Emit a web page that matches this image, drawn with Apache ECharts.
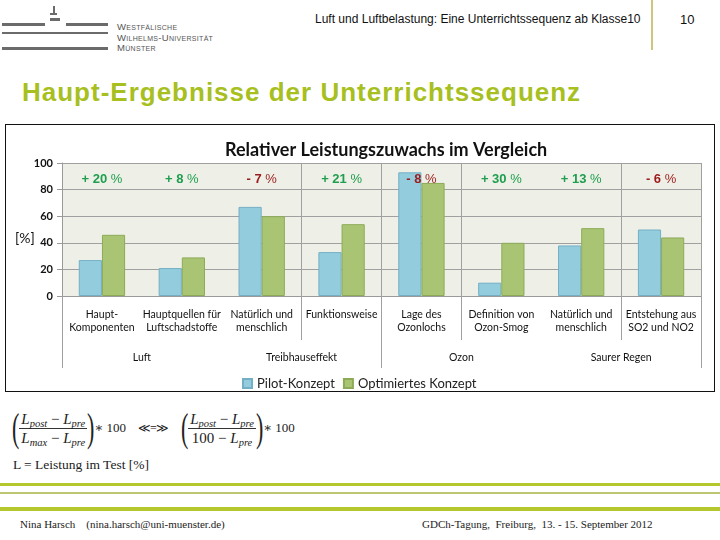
<!DOCTYPE html>
<html><head><meta charset="utf-8">
<script src="https://cdn.jsdelivr.net/npm/echarts@6/dist/echarts.min.js"></script>
<style>
html,body{margin:0;padding:0;background:#fff;width:720px;height:540px;overflow:hidden;position:relative;font-family:'Liberation Sans',Arial,sans-serif}
.abs{position:absolute}
.bar{position:absolute;background:#6b6b6b}
.logo{position:absolute;left:117px;font-size:9.5px;font-variant:small-caps;color:#555;letter-spacing:0.3px;line-height:10px;font-family:'Liberation Sans',Arial,sans-serif}
.gl{position:absolute;left:0;width:720px}
.serif{font-family:'Liberation Serif','Times New Roman',serif;color:#222}
.formula{position:absolute;display:flex;align-items:center;height:40px;font-family:'Liberation Serif','DejaVu Serif',serif;font-size:15px;color:#222}
.par{font-size:40px;line-height:40px;display:inline-block;transform:scaleX(0.55);font-weight:normal;margin:0 -3px}
.frac{display:inline-flex;flex-direction:column;align-items:center;line-height:16px}
.num{border-bottom:1px solid #333;padding:0 2px 1px}
.den{padding:1px 2px 0}
.frac sub{font-size:10.5px;font-style:italic;vertical-align:-3px;line-height:0}
.op{margin-left:0px;font-size:13px}
</style></head><body>

<!-- header / logo -->
<div class="bar" style="left:2px;top:23px;width:43px;height:3px"></div>
<div class="bar" style="left:66px;top:23px;width:42px;height:3px"></div>
<div class="bar" style="left:2px;top:32px;width:106px;height:1.5px"></div>
<div class="bar" style="left:2px;top:47px;width:106px;height:3px"></div>
<div class="bar" style="left:53px;top:6px;width:1.5px;height:7px"></div>
<div class="bar" style="left:50px;top:13px;width:7px;height:1.5px"></div>
<div class="bar" style="left:50px;top:18px;width:10px;height:2.5px"></div>
<div class="logo" style="top:22px">Westfälische</div>
<div class="logo" style="top:32.5px">Wilhelms-Universität</div>
<div class="logo" style="top:43px">Münster</div>

<div class="abs" style="left:315px;top:12px;font-size:12px;color:#111">Luft und Luftbelastung: Eine Unterrichtssequenz ab Klasse10</div>
<div class="abs" style="left:651px;top:0;width:1.5px;height:50px;background:#cfc67e"></div>
<div class="abs" style="left:680px;top:12px;font-size:13px;color:#111">10</div>

<div class="abs" style="left:22px;top:77px;font-size:26px;font-weight:bold;color:#a7bf1f;letter-spacing:1px">Haupt-Ergebnisse der Unterrichtssequenz</div>

<!-- chart box -->
<div class="abs" style="left:5px;top:124px;width:710px;height:268px;border:1.5px solid #111;box-sizing:border-box;background:#fff">
  <div id="chart" style="width:707px;height:265px"></div>
</div>

<!-- formula -->
<div class="formula" style="left:12px;top:408px">
  <span class="par">(</span>
  <span class="frac"><span class="num"><i>L</i><sub>post</sub> − <i>L</i><sub>pre</sub></span><span class="den"><i>L</i><sub>max</sub> − <i>L</i><sub>pre</sub></span></span>
  <span class="par">)</span>
  <span class="op">∗ 100</span>
  <span style="margin-left:12px;font-size:12px;letter-spacing:-1px">≪=≫</span>
  <span class="par" style="margin-left:10px">(</span>
  <span class="frac"><span class="num"><i>L</i><sub>post</sub> − <i>L</i><sub>pre</sub></span><span class="den">100 − <i>L</i><sub>pre</sub></span></span>
  <span class="par">)</span>
  <span class="op">∗ 100</span>
</div>
<div class="abs serif" style="left:13px;top:457px;font-size:13.5px">L = Leistung im Test [%]</div>

<!-- green lines -->
<div class="gl" style="top:483px;height:3px;background:#b4c72c"></div>
<div class="gl" style="top:492px;height:2px;background:#bcc670"></div>
<div class="gl" style="top:507px;height:3.5px;background:#b4c72c"></div>

<div class="abs serif" style="left:20px;top:518px;font-size:11px">Nina Harsch&nbsp;&nbsp;&nbsp;&nbsp;(nina.harsch@uni-muenster.de)</div>
<div class="abs serif" style="left:422px;top:518px;font-size:11px">GDCh-Tagung,&nbsp; Freiburg,&nbsp; 13. - 15. September 2012</div>

<script>
// ---- data ----
const categories = ['Haupt-\nKomponenten', 'Hauptquellen für\nLuftschadstoffe', 'Natürlich und\nmenschlich', 'Funktionsweise',
  'Lage des\nOzonlochs', 'Definition von\nOzon-Smog', 'Natürlich und\nmenschlich', 'Entstehung aus\nSO2 und NO2'];
const groups = ['Luft', 'Treibhauseffekt', 'Ozon', 'Saurer Regen'];
const pilot = [27, 21, 67, 33, 93, 10, 38, 50];
const optimiert = [46, 29, 60, 54, 85, 40, 51, 44];
const gains = [20, 8, -7, 21, -8, 30, 13, -6];
const seriesNames = ['Pilot-Konzept', 'Optimiertes Konzept'];
const chartTitle = 'Relativer Leistungszuwachs im Vergleich';
const yName = '[%]';

const FONT = 'Lato, "Open Sans", sans-serif';
const chart = echarts.init(document.getElementById('chart'), null, {renderer: 'canvas'});

const splitIdx = [3, 4, 5, 7];
const shortTickIdx = [3, 5, 7];
const longTickIdx = [0, 2];
const sepColor = '#a0a0a0';

chart.setOption({
  animation: false,
  textStyle: {fontFamily: FONT},
  title: {
    text: chartTitle, left: 214, top: 11,
    textStyle: {fontFamily: FONT, fontSize: 18, fontWeight: 'bold', color: '#111'}
  },
  legend: {
    data: seriesNames, left: 231, top: 247, icon: 'rect', itemWidth: 9, itemHeight: 9, itemGap: 8,
    textStyle: {fontFamily: FONT, fontSize: 13, color: '#222'}
  },
  graphic: [{
    type: 'text', left: 9, top: 106,
    style: {text: yName, fontFamily: FONT, fontSize: 14, fill: '#111'}
  }],
  grid: {left: 56, right: 12, top: 38, height: 133, show: true, backgroundColor: '#eef0e7', borderWidth: 0, outerBoundsMode: 'none'},
  xAxis: [
    {
      type: 'category', data: categories, position: 'bottom',
      axisLine: {show: true, lineStyle: {color: '#9a9a9a', width: 1}},
      axisTick: {show: true, length: 44, interval: (i) => shortTickIdx.includes(i), lineStyle: {color: sepColor}},
      axisLabel: {interval: 0, margin: 12, fontSize: 10.5, lineHeight: 13, color: '#111', fontFamily: FONT},
      splitLine: {show: true, interval: (i) => splitIdx.includes(i), lineStyle: {color: sepColor, width: 1}}
    },
    {
      type: 'category', data: gains.map(String), position: 'top', gridIndex: 0, z: 10,
      axisLine: {show: false}, axisTick: {show: false}, splitLine: {show: false},
      axisLabel: {
        inside: true, interval: 0, margin: 10,
        formatter: (v) => {
          const n = Number(v);
          const s = (n >= 0 ? '+ ' : '- ') + Math.abs(n) + ' ';
          return n >= 0 ? '{g|' + s + '}{gp|%}' : '{r|' + s + '}{rp|%}';
        },
        rich: {
          g: {color: '#1e9e4e', fontWeight: 'bold', fontSize: 13, fontFamily: 'Liberation Sans, Arial'},
          gp: {color: '#1e9e4e', fontSize: 13, fontFamily: 'Liberation Sans, Arial'},
          r: {color: '#9c1c1c', fontWeight: 'bold', fontSize: 13, fontFamily: 'Liberation Sans, Arial'},
          rp: {color: '#9c1c1c', fontSize: 13, fontFamily: 'Liberation Sans, Arial'}
        }
      }
    },
    {
      type: 'category', data: groups, position: 'bottom', gridIndex: 0,
      axisLine: {show: false}, splitLine: {show: false},
      axisTick: {show: true, length: 72, interval: (i) => longTickIdx.includes(i), lineStyle: {color: sepColor}},
      axisLabel: {interval: 0, margin: 56, fontSize: 10.5, color: '#111', fontFamily: FONT}
    },
    {
      type: 'category', data: groups, position: 'bottom', gridIndex: 0, inverse: true,
      axisLine: {show: false}, splitLine: {show: false}, axisLabel: {show: false},
      axisTick: {show: true, length: 72, interval: (i) => longTickIdx.includes(i), lineStyle: {color: sepColor}}
    }
  ],
  yAxis: {
    type: 'value', min: 0, max: 100, interval: 20,
    axisLine: {show: true, lineStyle: {color: '#9a9a9a'}},
    axisTick: {show: true, length: 5, lineStyle: {color: '#9a9a9a'}},
    axisLabel: {margin: 9, fontSize: 11, fontWeight: 'bold', color: '#111', fontFamily: FONT},
    splitLine: {show: true, lineStyle: {color: sepColor, width: 1}}
  },
  series: [
    {name: seriesNames[0], type: 'bar', data: pilot, barGap: '0%', barCategoryGap: '42%',
     itemStyle: {color: '#93cddd', borderColor: '#74afc6', borderWidth: 1}},
    {name: seriesNames[1], type: 'bar', data: optimiert, barGap: '0%', barCategoryGap: '42%',
     itemStyle: {color: '#a9c573', borderColor: '#8dab57', borderWidth: 1}}
  ]
});
</script>
</body></html>
